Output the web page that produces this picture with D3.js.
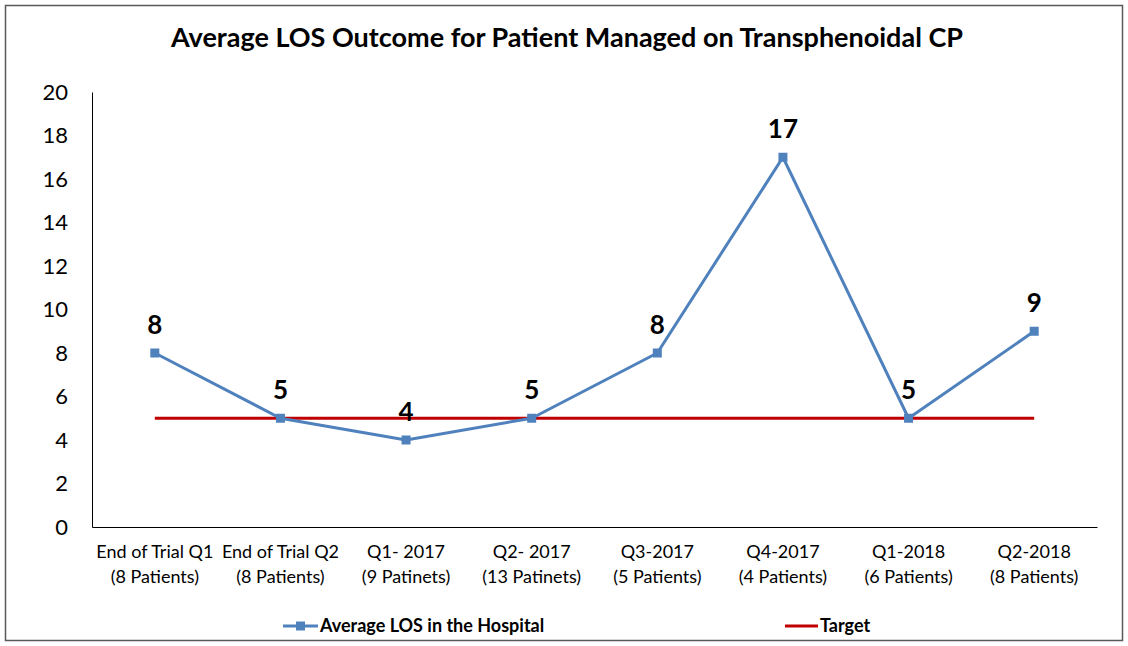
<!DOCTYPE html>
<html>
<head>
<meta charset="utf-8">
<script src="https://cdn.jsdelivr.net/npm/d3@7"></script>
<style>
  body { margin: 0; background: #fff; }
  text { font-family: Lato, "Open Sans", sans-serif; fill: #000; }
</style>
</head>
<body>
<div id="chart"></div>
<script>
// chart data
var categories = ["End of Trial Q1", "End of Trial Q2", "Q1- 2017", "Q2- 2017", "Q3-2017", "Q4-2017", "Q1-2018", "Q2-2018"];
var subLabels = ["(8 Patients)", "(8 Patients)", "(9 Patinets)", "(13 Patinets)", "(5 Patients)", "(4 Patients)", "(6 Patients)", "(8 Patients)"];
var losValues = [8, 5, 4, 5, 8, 17, 5, 9];
var targetValues = [5, 5, 5, 5, 5, 5, 5, 5];
var yTicks = [0, 2, 4, 6, 8, 10, 12, 14, 16, 18, 20];

var W = 1128, H = 646;
var margin = {top: 92, right: 31, bottom: 119, left: 92},
    width = W - margin.left - margin.right,
    height = H - margin.top - margin.bottom;

var svg = d3.select("#chart").append("svg")
    .attr("width", W)
    .attr("height", H);

// outer frame
svg.append("rect")
    .attr("x", 5.5).attr("y", 5.5)
    .attr("width", W - 11).attr("height", H - 11)
    .attr("fill", "#fff")
    .attr("stroke", "#595959")
    .attr("stroke-width", 1.5);

svg.append("text")
    .attr("x", 567)
    .attr("y", 47)
    .attr("text-anchor", "middle")
    .style("font-size", "27px")
    .style("font-weight", "bold")
    .text("Average LOS Outcome for Patient Managed on Transphenoidal CP");

var g = svg.append("g")
    .attr("transform", "translate(" + margin.left + "," + margin.top + ")");

var x = d3.scaleBand().domain(categories).range([0, width]);
var y = d3.scaleLinear().domain([0, 20]).range([height, 0]);

// y axis
var yAxis = g.append("g")
    .call(d3.axisLeft(y).tickValues(yTicks).tickSize(0).tickPadding(24));
yAxis.select(".domain").attr("stroke", "#000");
yAxis.selectAll("text").style("font-size", "22px").style("font-family", "Lato, sans-serif");

// x axis
var xAxis = g.append("g")
    .attr("transform", "translate(0," + height + ")")
    .call(d3.axisBottom(x).tickSize(0).tickFormat(""));
xAxis.select(".domain").attr("stroke", "#000");
xAxis.selectAll(".tick").each(function(d, i) {
  var t = d3.select(this).append("text")
      .attr("text-anchor", "middle")
      .style("font-size", "18px");
  t.append("tspan").attr("x", 0).attr("y", 31).text(categories[i]);
  t.append("tspan").attr("x", 0).attr("y", 56).text(subLabels[i]);
});

var cx = function(d, i) { return x(categories[i]) + x.bandwidth() / 2; };

// target line
g.append("path")
    .datum(targetValues)
    .attr("fill", "none")
    .attr("stroke", "#c00000")
    .attr("stroke-width", 3)
    .attr("d", d3.line().x(cx).y(function(d) { return y(d); }));

// LOS line
g.append("path")
    .datum(losValues)
    .attr("fill", "none")
    .attr("stroke", "#4f81bd")
    .attr("stroke-width", 3)
    .attr("stroke-linejoin", "round")
    .attr("d", d3.line().x(cx).y(function(d) { return y(d); }));

g.selectAll(".marker")
    .data(losValues)
  .enter().append("rect")
    .attr("class", "marker")
    .attr("x", function(d, i) { return cx(d, i) - 4.5; })
    .attr("y", function(d) { return y(d) - 4.5; })
    .attr("width", 9).attr("height", 9)
    .attr("fill", "#4f81bd");

g.selectAll(".dlabel")
    .data(losValues)
  .enter().append("text")
    .attr("class", "dlabel")
    .attr("x", cx)
    .attr("y", function(d) { return y(d) - 19; })
    .attr("text-anchor", "middle")
    .style("font-size", "26px")
    .style("font-weight", "bold")
    .text(function(d) { return d; });

// legend
var legend = svg.append("g");
legend.append("line")
    .attr("x1", 283).attr("x2", 318).attr("y1", 626).attr("y2", 626)
    .attr("stroke", "#4f81bd").attr("stroke-width", 3);
legend.append("rect")
    .attr("x", 296).attr("y", 621.5).attr("width", 9).attr("height", 9)
    .attr("fill", "#4f81bd");
legend.append("text")
    .attr("x", 320).attr("y", 632)
    .style("font-size", "18px").style("font-weight", "bold")
    .text("Average LOS in the Hospital");
legend.append("line")
    .attr("x1", 785).attr("x2", 818).attr("y1", 626).attr("y2", 626)
    .attr("stroke", "#c00000").attr("stroke-width", 3);
legend.append("text")
    .attr("x", 820).attr("y", 632)
    .style("font-size", "18px").style("font-weight", "bold")
    .text("Target");
</script>
</body>
</html>
